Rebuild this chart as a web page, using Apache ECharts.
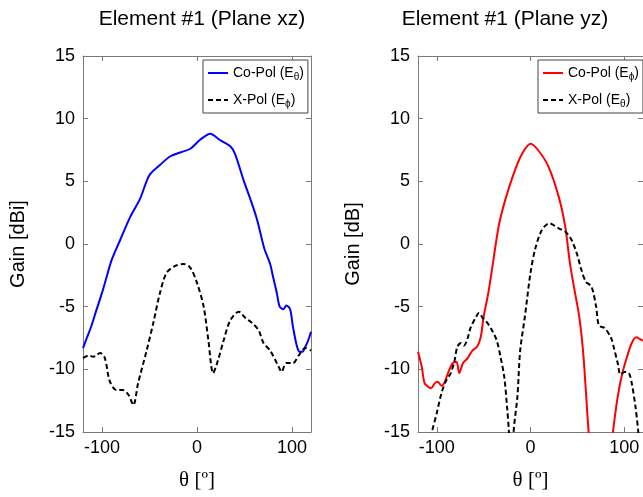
<!DOCTYPE html>
<html><head><meta charset="utf-8">
<script src="https://cdn.jsdelivr.net/npm/echarts@6/dist/echarts.min.js"></script>
<style>html,body{margin:0;padding:0;background:#fff}#c{width:643px;height:497px}</style>
</head><body><div id="c"></div>
<script>
// ---- data ----
const titles = ['Element #1 (Plane xz)', 'Element #1 (Plane yz)'];
const yNames = ['Gain [dBi]', 'Gain [dB]'];
const xName = 'θ [º]';
const xTicks = [-100, 0, 100];
const legendXZ = ['Co-Pol (E{sub|θ})', 'X-Pol (E{sub|ϕ})'];
const legendYZ = ['Co-Pol (E{sub|ϕ})', 'X-Pol (E{sub|θ})'];

const thetaCoXZ = [-120,-116,-111,-106,-100,-95,-90,-81,-70,-60,-50,-39,-28,-18,-7,3,14,24,35,40,49,57,63,67,71,77,80,84,87,91,94,98,101,105,108,111,114,117,120];
const gainCoXZ  = [-8.3,-7.5,-6.5,-5.3,-3.9,-2.6,-1.3,0.3,2.2,3.6,5.5,6.3,7.0,7.3,7.6,8.3,8.8,8.3,7.8,7.2,5.1,3.4,2.0,0.8,-0.4,-1.6,-2.6,-3.9,-5.0,-5.2,-4.9,-5.2,-6.6,-8.1,-8.6,-8.6,-8.2,-7.7,-7.0];

const thetaXXZ = [-120,-114,-109,-102,-97,-92,-85,-78,-72,-67,-62,-53,-46,-39,-32,-23,-14,-7,0,7,12,17,22,28,35,44,51,58,65,70,77,86,89,94,101,107,114,120];
const gainXXZ  = [-9.1,-8.9,-9.0,-8.7,-9.1,-10.9,-11.65,-11.65,-12.05,-12.85,-11.1,-8.5,-6.3,-3.9,-2.3,-1.75,-1.6,-1.9,-3.1,-5.0,-7.7,-10.3,-9.3,-7.7,-6.1,-5.4,-5.9,-6.3,-6.9,-7.9,-8.5,-9.8,-10.2,-9.5,-9.5,-8.9,-8.3,-8.5];

const thetaCoYZ = [-120,-116,-113,-109,-106,-102,-99,-95,-92,-88,-83,-79,-76,-72,-67,-62,-57,-53,-50,-45,-41,-34,-27,-18,-9,0,8,19,30,37,42,47,52,56,59,62,66,75,84,88,93,98,103,108,113,117,120];
const gainCoYZ  = [-8.6,-9.8,-11.1,-11.4,-11.5,-11.1,-11.0,-11.3,-11.1,-10.3,-9.5,-9.4,-10.3,-9.5,-9.1,-8.5,-8.2,-7.4,-5.8,-3.9,-2.0,1.4,3.5,5.6,7.2,8.0,7.5,6.2,3.8,1.4,-1.5,-3.7,-5.8,-8.5,-11.65,-15,-18,-22,-18,-15,-12.2,-10.3,-9.0,-7.9,-7.45,-7.6,-7.7];

const thetaXYZ = [-110,-105,-100,-95,-90,-85,-81,-78,-74,-71,-67,-64,-58,-55,-51,-46,-41,-36,-32,-28,-25,-23,-20,-18,-14,-11,-6,0,5,12,20,30,37,44,50,54,59,65,70,73,79,86,89,93,96,101,105,108,112,115,120];
const gainXYZ  = [-18,-15,-13.5,-11.9,-10.9,-10.3,-9.3,-8.2,-7.9,-8.1,-7.5,-6.7,-5.8,-5.5,-5.9,-6.3,-6.9,-7.7,-9.0,-10.6,-13.0,-15,-20,-15,-12.2,-8.5,-5.8,-2.3,-0.4,1.1,1.65,1.25,1.0,0.3,-0.9,-2.0,-3.0,-3.4,-5.0,-6.5,-6.7,-7.5,-8.3,-9.5,-10.4,-10.2,-10.3,-11.1,-13.0,-15,-19];

// ---- build ----
const zip = (a, b) => a.map((v, i) => [v, b[i]]);
const AX = '#7a7a7a';
const FONT = 'Liberation Sans, Arial';
const grids = [
  {left: 83, top: 56, width: 228, height: 376},
  {left: 418, top: 56, width: 228, height: 376}
];
const xAxes = [], yAxes = [];
grids.forEach((g, i) => {
  const base = {type: 'value', gridIndex: i, min: -120, max: 120, splitLine: {show: false},
    axisLine: {show: true, onZero: false, lineStyle: {color: AX, width: 1}},
    axisTick: {show: true, inside: true, length: 5, customValues: xTicks, lineStyle: {color: AX}}};
  xAxes.push(Object.assign({}, base, {position: 'bottom',
    axisLabel: {show: true, customValues: xTicks, color: '#000', fontSize: 18, fontFamily: FONT, margin: 7,
      formatter: v => String(v)},
    name: xName, nameLocation: 'middle', nameGap: 38,
    nameTextStyle: {color: '#000', fontSize: 21, fontFamily: 'Liberation Serif, Times New Roman, serif'}}));
  xAxes.push(Object.assign({}, base, {position: 'top', axisLabel: {show: false}}));
  const ybase = {type: 'value', gridIndex: i, min: -15, max: 15, interval: 5, splitLine: {show: false},
    axisLine: {show: true, onZero: false, lineStyle: {color: AX, width: 1}},
    axisTick: {show: true, inside: true, length: 5, lineStyle: {color: AX}}};
  yAxes.push(Object.assign({}, ybase, {position: 'left',
    axisLabel: {color: '#000', fontSize: 18, fontFamily: FONT, margin: 8},
    name: yNames[i], nameLocation: 'middle', nameGap: 55,
    nameTextStyle: {color: '#000', fontSize: 20, fontFamily: FONT}}));
  yAxes.push(Object.assign({}, ybase, {position: 'right', axisLabel: {show: false}}));
});

function line(name, data, color, dashed, idx) {
  return {type: 'line', name: name, data: data, xAxisIndex: idx * 2, yAxisIndex: idx * 2,
    symbol: 'none', smooth: 0.3, clip: true, animation: false,
    lineStyle: {color: color, width: 2, type: dashed ? [5, 3] : 'solid'},
    itemStyle: {color: color}};
}

const legendText = {fontSize: 14, color: '#000', fontFamily: FONT,
  rich: {sub: {fontSize: 10, padding: [8, 0, 0, 0], fontFamily: FONT}}};
function legend(names, left) {
  return {data: names, left: left, top: 60, orient: 'vertical', itemWidth: 20, itemHeight: 12, itemGap: 11,
    padding: [6, 4, 4, 4], borderColor: '#444', borderWidth: 1, backgroundColor: '#fff',
    textStyle: legendText, selectedMode: false, itemStyle: {opacity: 0}};
}

const chart = echarts.init(document.getElementById('c'), null, {renderer: 'canvas'});
chart.setOption({
  animation: false,
  backgroundColor: '#fff',
  title: [
    {text: titles[0], left: 197, top: 4, textAlign: 'center', textStyle: {fontSize: 21, fontWeight: 'normal', color: '#000', fontFamily: FONT}},
    {text: titles[1], left: 500, top: 4, textAlign: 'center', textStyle: {fontSize: 21, fontWeight: 'normal', color: '#000', fontFamily: FONT}}
  ],
  grid: grids,
  xAxis: xAxes,
  yAxis: yAxes,
  legend: [legend(legendXZ, 203), legend(legendYZ, 538)],
  series: [
    line(legendXZ[0], zip(thetaCoXZ, gainCoXZ), '#0000ff', false, 0),
    line(legendXZ[1], zip(thetaXXZ, gainXXZ), '#000000', true, 0),
    line(legendYZ[0], zip(thetaCoYZ, gainCoYZ), '#ff0000', false, 1),
    line(legendYZ[1], zip(thetaXYZ, gainXYZ), '#000000', true, 1)
  ]
});
</script></body></html>
